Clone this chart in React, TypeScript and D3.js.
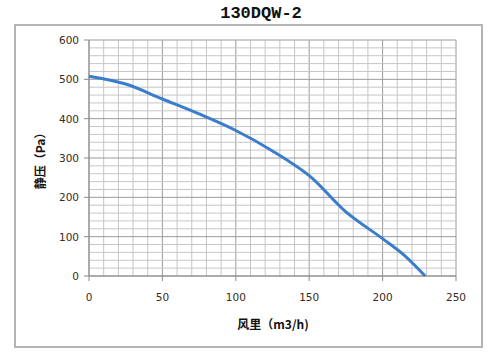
import React from "react";
import * as d3 from "d3";

const titleText = "130DQW-2";
const xLabel = "风里（m3/h)";
const yLabel = "静压（Pa）";
const flowValues = [0, 25, 50, 75, 100, 125, 150, 175, 200, 215, 229];
const pressureValues = [508, 488, 450, 412, 370, 318, 255, 163, 95, 52, 0];
const xTicks = [0, 50, 100, 150, 200, 250];
const yTicks = [0, 100, 200, 300, 400, 500, 600];

export default function App() {
  const W = 500, H = 362;
  const x = d3.scaleLinear().domain([0, 250]).range([89, 456]);
  const y = d3.scaleLinear().domain([0, 600]).range([276, 40]);
  const xMinor = d3.range(0, 251, 10);
  const yMinor = d3.range(0, 601, 20);
  const pts = flowValues.map((v, i) => [v, pressureValues[i]] as [number, number]);
  const line = d3.line<[number, number]>().x(d => x(d[0])).y(d => y(d[1])).curve(d3.curveCatmullRom.alpha(0.5));
  const sans = "'DejaVu Sans', Verdana, sans-serif";
  const cjk = "'Noto Sans CJK SC', sans-serif";
  return (
    <svg width={W} height={H} style={{ position: "absolute", left: 0, top: 0, background: "#fff" }}>
      <rect x={0} y={0} width={W} height={H} fill="#fff" />
      <text x={261} y={18} textAnchor="middle" fontFamily="'Liberation Mono', 'DejaVu Sans Mono', monospace" fontWeight="bold" fontSize={17} fill="#111">{titleText}</text>
      <rect x={15} y={25} width={467} height={322} fill="none" stroke="#b4b4b4" strokeWidth={2} />
      {xMinor.map(v => (
        <line key={"xm" + v} x1={x(v)} x2={x(v)} y1={y(0)} y2={y(600)} stroke={v % 50 === 0 ? "#9a9a9a" : "#c6c6c6"} strokeWidth={1} />
      ))}
      {yMinor.map(v => (
        <line key={"ym" + v} x1={x(0)} x2={x(250)} y1={y(v)} y2={y(v)} stroke={v % 100 === 0 ? "#9a9a9a" : "#c6c6c6"} strokeWidth={1} />
      ))}
      <line x1={x(0)} x2={x(0)} y1={y(0)} y2={y(600)} stroke="#8a8a8a" />
      <line x1={x(0)} x2={x(250)} y1={y(0)} y2={y(0)} stroke="#8a8a8a" />
      {yTicks.map(v => (
        <g key={"yt" + v}>
          <line x1={x(0) - 5} x2={x(0)} y1={y(v)} y2={y(v)} stroke="#8a8a8a" />
          <text x={79} y={y(v) + 4} textAnchor="end" fontFamily={sans} fontSize={10.5} fill="#3a2a1a">{v}</text>
        </g>
      ))}
      {xTicks.map(v => (
        <g key={"xt" + v}>
          <line x1={x(v)} x2={x(v)} y1={y(0)} y2={y(0) + 5} stroke="#8a8a8a" />
          <text x={x(v)} y={301} textAnchor="middle" fontFamily={sans} fontSize={10.5} fill="#3a2a1a">{v}</text>
        </g>
      ))}
      <path d={line(pts) || ""} fill="none" stroke="#3a7dcc" strokeWidth={3} />
      <text x={273} y={329} textAnchor="middle" fontFamily={cjk} fontWeight="bold" fontSize={12} fill="#111">{xLabel}</text>
      <text transform={`translate(45,158) rotate(-90)`} textAnchor="middle" fontFamily={cjk} fontWeight="bold" fontSize={12} fill="#111">{yLabel}</text>
    </svg>
  );
}
